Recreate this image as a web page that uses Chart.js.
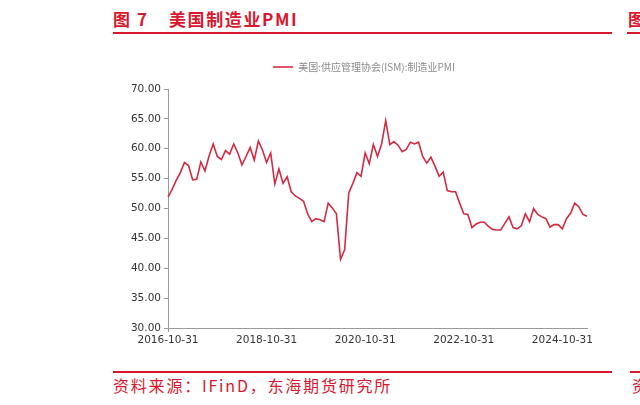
<!DOCTYPE html>
<html>
<head>
<meta charset="utf-8">
<script src="https://cdn.jsdelivr.net/npm/chart.js@4.4.1/dist/chart.umd.min.js"></script>
<style>
  body { margin: 0; width: 640px; height: 405px; background: #fff; position: relative; overflow: hidden; font-family: "Noto Sans CJK SC", sans-serif; }
  .red { color: #d9182f; position: absolute; white-space: nowrap; }
  .title { font-size: 17px; font-weight: bold; top: 6px; letter-spacing: 1.6px; }
  .rule { position: absolute; height: 2px; background: #d9182f; }
  .src { font-size: 16px; top: 373px; letter-spacing: 1.8px; }
  #c { position: absolute; left: 113px; top: 40px; }
</style>
</head>
<body>
<div class="red title" style="left:113px">图 7</div>
<div class="red title" style="left:169px">美国制造业PMI</div>
<div class="red title" style="left:628px">图</div>
<div class="rule" style="left:113px; top:32px; width:499px"></div>
<div class="rule" style="left:627px; top:32px; width:13px"></div>
<div class="rule" style="left:113px; top:371px; width:499px"></div>
<div class="rule" style="left:630px; top:371px; width:10px"></div>
<div class="red src" style="left:113px">资料来源：IFinD，东海期货研究所</div>
<div class="red src" style="left:632px">资</div>
<canvas id="c" width="499" height="322"></canvas>
<script>
// 美国ISM制造业PMI，2016-10 至 2025-04，月末
const startYear = 2016, startMonth = 10;
const seriesName = '美国:供应管理协会(ISM):制造业PMI';
const pmi2016 = [51.9, 53.2, 54.7];
const pmi2017 = [56.0, 57.7, 57.2, 54.8, 54.9, 57.8, 56.3, 58.8, 60.8, 58.7, 58.2, 59.7];
const pmi2018 = [59.1, 60.8, 59.3, 57.3, 58.7, 60.2, 58.1, 61.3, 59.8, 57.7, 59.3, 54.1];
const pmi2019 = [56.6, 54.2, 55.3, 52.8, 52.1, 51.7, 51.2, 49.1, 47.8, 48.3, 48.1, 47.8];
const pmi2020 = [50.9, 50.1, 49.1, 41.5, 43.1, 52.6, 54.2, 56.0, 55.4, 59.3, 57.5, 60.7];
const pmi2021 = [58.7, 60.8, 64.7, 60.7, 61.2, 60.6, 59.5, 59.9, 61.1, 60.8, 61.1, 58.7];
const pmi2022 = [57.6, 58.6, 57.1, 55.4, 56.1, 53.0, 52.8, 52.8, 50.9, 49.1, 49.0, 46.8];
const pmi2023 = [47.4, 47.7, 47.7, 47.0, 46.5, 46.4, 46.4, 47.5, 48.6, 46.8, 46.6, 47.1];
const pmi2024 = [49.1, 47.8, 50.0, 49.0, 48.6, 48.3, 46.9, 47.3, 47.3, 46.6, 48.3, 49.2];
const pmi2025 = [50.9, 50.3, 49.0, 48.7];
const yTicks = [30, 35, 40, 45, 50, 55, 60, 65, 70];
const labelEvery = 24;

const values = [].concat(pmi2016, pmi2017, pmi2018, pmi2019, pmi2020, pmi2021, pmi2022, pmi2023, pmi2024, pmi2025);

// 月末日期作为类别
const dates = values.map((v, i) => {
  const m0 = startMonth - 1 + i;
  const y = startYear + Math.floor(m0 / 12);
  const m = m0 % 12 + 1;
  const last = new Date(y, m, 0).getDate();
  return y + '-' + String(m).padStart(2, '0') + '-' + last;
});

const lineColor = '#d42a42';
const axisColor = '#9a9a9a';

// 图例整体挪位，和原图对齐
const legendShift = {
  id: 'legendShift',
  afterLayout(chart) {
    const lg = chart.legend;
    lg.left += 14; lg.right += 14;
    lg.top -= 7; lg.bottom -= 7;
  }
};

new Chart(document.getElementById('c'), {
  type: 'line',
  data: {
    labels: dates,
    datasets: [{
      label: seriesName,
      data: values,
      borderColor: lineColor,
      backgroundColor: lineColor,
      borderWidth: 1.6,
      pointRadius: 0,
      tension: 0
    }]
  },
  plugins: [legendShift],
  options: {
    responsive: false,
    animation: false,
    devicePixelRatio: 1,
    layout: { padding: { top: 14, right: 25, bottom: 0, left: 0 } },
    plugins: {
      legend: {
        position: 'top',
        labels: {
          usePointStyle: true,
          pointStyle: 'line',
          pointStyleWidth: 20,
          color: '#8a8a8a',
          padding: 15,
          font: { family: '"Noto Sans CJK SC"', size: 10 }
        }
      },
      tooltip: { enabled: false }
    },
    scales: {
      x: {
        afterFit: s => { s.height = 34; },
        border: { color: axisColor, width: 1 },
        grid: {
          drawOnChartArea: false,
          tickLength: 4,
          color: c => (c.index % labelEvery === 0 ? axisColor : 'rgba(0,0,0,0)')
        },
        ticks: {
          autoSkip: false,
          maxRotation: 0,
          padding: 2,
          color: '#333',
          font: { family: '"DejaVu Sans"', size: 10.5 },
          callback: function (v, i) { return i % labelEvery === 0 ? this.getLabelForValue(v) : null; }
        }
      },
      y: {
        min: yTicks[0],
        max: yTicks[yTicks.length - 1],
        afterFit: s => { s.width = 55; },
        afterBuildTicks: s => { s.ticks = yTicks.map(v => ({ value: v })); },
        border: { color: axisColor, width: 1 },
        grid: { drawOnChartArea: false, tickLength: 4, color: axisColor },
        ticks: {
          padding: 3,
          color: '#333',
          font: { family: '"DejaVu Sans"', size: 10.5 },
          callback: v => v.toFixed(2)
        }
      }
    }
  }
});
</script>
</body>
</html>
